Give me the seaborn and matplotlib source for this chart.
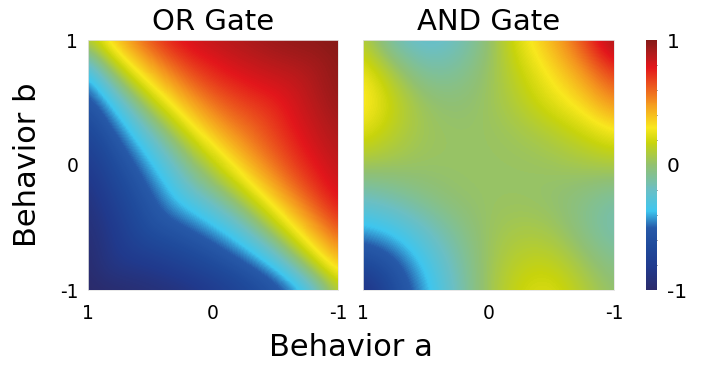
import numpy as np
import matplotlib
matplotlib.use("Agg")
import matplotlib.pyplot as plt
from matplotlib.colors import LinearSegmentedColormap
import seaborn as sns

# OR grid: columns run a = 1 -> -1, rows run b = -1 -> 1 (13 points)
or_a = [1.0, 5/6, 4/6, 3/6, 2/6, 1/6, 0.0, -1/6, -2/6, -3/6, -4/6, -5/6, -1.0]
or_b = [-1.0, -5/6, -4/6, -3/6, -2/6, -1/6, 0.0, 1/6, 2/6, 3/6, 4/6, 5/6, 1.0]

# values, one row per b value (bottom to top)
or_gate = [
    [-1.00, -0.98, -0.96, -0.93, -0.91, -0.87, -0.80, -0.73, -0.65, -0.56, -0.45, -0.22, 0.12],
    [-0.98, -0.88, -0.86, -0.84, -0.79, -0.73, -0.67, -0.60, -0.51, -0.40, -0.18, 0.12, 0.34],
    [-0.96, -0.86, -0.76, -0.71, -0.66, -0.61, -0.54, -0.45, -0.34, -0.14, 0.13, 0.34, 0.49],
    [-0.93, -0.84, -0.71, -0.59, -0.55, -0.48, -0.40, -0.29, -0.10, 0.13, 0.33, 0.48, 0.65],
    [-0.91, -0.79, -0.66, -0.55, -0.43, -0.35, -0.23, -0.07, 0.13, 0.32, 0.47, 0.63, 0.76],
    [-0.87, -0.73, -0.61, -0.48, -0.35, -0.17, -0.03, 0.14, 0.32, 0.46, 0.61, 0.73, 0.82],
    [-0.80, -0.67, -0.54, -0.40, -0.23, -0.03, 0.14, 0.31, 0.45, 0.58, 0.70, 0.78, 0.86],
    [-0.73, -0.60, -0.45, -0.29, -0.07, 0.14, 0.31, 0.44, 0.56, 0.66, 0.75, 0.83, 0.89],
    [-0.65, -0.51, -0.34, -0.10, 0.13, 0.32, 0.45, 0.56, 0.63, 0.71, 0.79, 0.86, 0.92],
    [-0.56, -0.40, -0.14, 0.13, 0.32, 0.46, 0.58, 0.66, 0.71, 0.75, 0.82, 0.89, 0.95],
    [-0.45, -0.18, 0.13, 0.33, 0.47, 0.61, 0.70, 0.75, 0.79, 0.82, 0.85, 0.91, 0.97],
    [-0.22, 0.12, 0.34, 0.48, 0.63, 0.73, 0.78, 0.83, 0.86, 0.89, 0.91, 0.93, 0.98],
    [0.12, 0.34, 0.49, 0.65, 0.76, 0.82, 0.86, 0.89, 0.92, 0.95, 0.97, 0.98, 1.00],
]

# AND grid (9 points)
and_a = [1.0, 0.75, 0.5, 0.25, 0.0, -0.25, -0.5, -0.75, -1.0]
and_b = [-1.0, -0.75, -0.5, -0.25, 0.0, 0.25, 0.5, 0.75, 1.0]

and_gate = [
    [-0.95, -0.62, -0.42, -0.18, 0.05, 0.20, 0.25, 0.12, 0.00],
    [-0.62, -0.52, -0.33, -0.14, 0.04, 0.14, 0.15, 0.03, -0.08],
    [-0.40, -0.33, -0.20, -0.07, 0.03, 0.07, 0.05, -0.06, -0.17],
    [-0.18, -0.12, -0.04, 0.01, 0.02, 0.02, 0.00, -0.05, -0.12],
    [0.05, 0.04, 0.02, 0.02, 0.02, 0.02, 0.03, 0.06, 0.08],
    [0.24, 0.12, 0.04, 0.02, 0.02, 0.05, 0.10, 0.18, 0.28],
    [0.36, 0.17, 0.02, -0.02, 0.03, 0.12, 0.24, 0.34, 0.52],
    [0.30, 0.06, -0.12, -0.10, 0.02, 0.17, 0.32, 0.48, 0.72],
    [0.12, -0.18, -0.26, -0.20, -0.02, 0.26, 0.42, 0.66, 0.97],
]

titles = ["OR Gate", "AND Gate"]

# colour map stops (value, colour)
cmap_stops = [
    (-1.00, "#2b2b6b"), (-0.82, "#213a8d"), (-0.65, "#1f4a9b"),
    (-0.50, "#275aa9"), (-0.37, "#3ec6ef"), (-0.20, "#6bbfc4"),
    (0.00, "#92c170"), (0.18, "#c8d40c"), (0.30, "#f9e81e"),
    (0.50, "#f4951f"), (0.78, "#e3161b"), (0.90, "#b01b1c"),
    (1.00, "#861a18"),
]
cmap = LinearSegmentedColormap.from_list(
    "gate", [((v + 1) / 2, c) for v, c in cmap_stops])

sns.set_style("white")
plt.rcParams['font.family'] = ['DejaVu Sans']
plt.rcParams['text.color'] = 'black'
plt.rcParams['xtick.color'] = 'black'
plt.rcParams['ytick.color'] = 'black'

fig = plt.figure(figsize=(7.18, 3.66), dpi=100)
W, H = 718, 366
axes = [
    fig.add_axes([88 / W, 76 / H, 250 / W, 250 / H]),
    fig.add_axes([363 / W, 76 / H, 251 / W, 250 / H]),
]
cax = fig.add_axes([646 / W, 76 / H, 11 / W, 250 / H])

panels = [(or_gate, or_a, or_b), (and_gate, and_a, and_b)]
for i, (ax, (vals, xa, yb)) in enumerate(zip(axes, panels)):
    hx = (xa[0] - xa[1]) / 2
    hy = (yb[1] - yb[0]) / 2
    im = ax.imshow(np.array(vals), cmap=cmap, vmin=-1, vmax=1,
                   origin="lower", interpolation="bicubic",
                   interpolation_stage="data",
                   extent=[xa[0] + hx, xa[-1] - hx, yb[0] - hy, yb[-1] + hy],
                   aspect="auto")
    ax.set_xlim(1, -1)
    ax.set_ylim(-1, 1)
    ax.set_xticks([1, 0, -1])
    ax.set_xticklabels(["1", "0", "-1"])
    ax.set_yticks([-1, 0, 1])
    if i == 0:
        ax.set_yticklabels(["-1", "0", "1"])
    else:
        ax.set_yticklabels([])
    ax.tick_params(length=0, labelsize=13.5, colors="black")
    ax.tick_params(axis="x", pad=10)
    ax.tick_params(axis="y", pad=7)
    ax.set_title(titles[i], fontsize=21, pad=7, color="black")
    for sp in ax.spines.values():
        sp.set_color("#e4e4e4")
        sp.set_linewidth(0.6)

cb = fig.colorbar(im, cax=cax)
cb.set_ticks([-1, 0, 1])
cb.set_ticklabels(["-1", "0", "1"])
cb.ax.tick_params(length=0, labelsize=14.5, pad=7, colors="black")
cb.ax.set_yticks([-0.8, -0.6, -0.4, -0.2, 0.2, 0.4, 0.6, 0.8], minor=True)
cb.ax.tick_params(which="minor", direction="in", length=2.5,
                  width=0.6, color="#333333", right=True)
cb.outline.set_visible(False)

fig.text(351 / W, 1 - 347 / H, "Behavior a", fontsize=22,
         ha="center", va="center", color="black")
fig.text(28 / W, 1 - 165 / H, "Behavior b", fontsize=22,
         ha="center", va="center", rotation=90, color="black")

fig.savefig("out.png", dpi=100)
